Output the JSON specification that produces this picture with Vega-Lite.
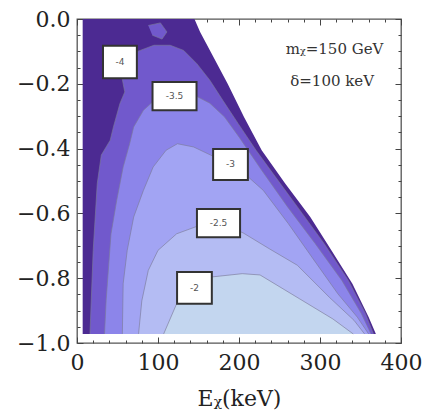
{
  "$schema": "https://vega.github.io/schema/vega-lite/v6.json",
  "autosize": "none",
  "width": 324,
  "height": 324,
  "padding": {"left": 77, "top": 19, "right": 22, "bottom": 72},
  "background": "white",
  "config": {
    "view": {"stroke": "#555", "strokeWidth": 1.3},
    "axis": {"grid": false, "domain": false, "ticks": true, "zindex": 2, "tickColor": "#444", "tickWidth": 1, "labelFont": "DejaVu Serif", "labelColor": "#222", "labelFlush": false, "labelOverlap": false, "titleFont": "DejaVu Serif", "titleColor": "#222", "titleFontWeight": "normal"}
  },
  "datasets": {
    "polys": [
      {"p": "L0", "i": 0, "x": 7, "y": 0},
      {"p": "L0", "i": 1, "x": 145, "y": 0},
      {"p": "L0", "i": 2, "x": 152, "y": -0.04},
      {"p": "L0", "i": 3, "x": 186, "y": -0.2},
      {"p": "L0", "i": 4, "x": 206, "y": -0.302},
      {"p": "L0", "i": 5, "x": 228, "y": -0.405},
      {"p": "L0", "i": 6, "x": 257, "y": -0.508},
      {"p": "L0", "i": 7, "x": 288, "y": -0.611},
      {"p": "L0", "i": 8, "x": 314, "y": -0.714},
      {"p": "L0", "i": 9, "x": 340, "y": -0.817},
      {"p": "L0", "i": 10, "x": 360, "y": -0.92},
      {"p": "L0", "i": 11, "x": 369, "y": -0.972},
      {"p": "L0", "i": 12, "x": 7, "y": -0.972},

      {"p": "L1", "i": 0, "x": 16, "y": -0.972},
      {"p": "L1", "i": 1, "x": 20, "y": -0.714},
      {"p": "L1", "i": 2, "x": 25, "y": -0.508},
      {"p": "L1", "i": 3, "x": 30, "y": -0.42},
      {"p": "L1", "i": 4, "x": 41, "y": -0.374},
      {"p": "L1", "i": 5, "x": 45, "y": -0.333},
      {"p": "L1", "i": 6, "x": 53, "y": -0.261},
      {"p": "L1", "i": 7, "x": 59, "y": -0.225},
      {"p": "L1", "i": 8, "x": 57, "y": -0.2},
      {"p": "L1", "i": 9, "x": 54, "y": -0.16},
      {"p": "L1", "i": 10, "x": 60, "y": -0.115},
      {"p": "L1", "i": 11, "x": 78, "y": -0.097},
      {"p": "L1", "i": 12, "x": 95, "y": -0.081},
      {"p": "L1", "i": 13, "x": 115, "y": -0.081},
      {"p": "L1", "i": 14, "x": 131.7, "y": -0.097},
      {"p": "L1", "i": 15, "x": 148, "y": -0.138},
      {"p": "L1", "i": 16, "x": 164, "y": -0.189},
      {"p": "L1", "i": 17, "x": 180, "y": -0.251},
      {"p": "L1", "i": 18, "x": 199, "y": -0.323},
      {"p": "L1", "i": 19, "x": 221, "y": -0.405},
      {"p": "L1", "i": 20, "x": 251, "y": -0.508},
      {"p": "L1", "i": 21, "x": 278, "y": -0.6},
      {"p": "L1", "i": 22, "x": 305, "y": -0.693},
      {"p": "L1", "i": 23, "x": 335, "y": -0.807},
      {"p": "L1", "i": 24, "x": 356, "y": -0.909},
      {"p": "L1", "i": 25, "x": 366, "y": -0.972},

      {"p": "L2", "i": 0, "x": 34, "y": -0.972},
      {"p": "L2", "i": 1, "x": 36, "y": -0.868},
      {"p": "L2", "i": 2, "x": 39, "y": -0.765},
      {"p": "L2", "i": 3, "x": 42, "y": -0.663},
      {"p": "L2", "i": 4, "x": 49, "y": -0.56},
      {"p": "L2", "i": 5, "x": 57, "y": -0.457},
      {"p": "L2", "i": 6, "x": 65, "y": -0.385},
      {"p": "L2", "i": 7, "x": 70, "y": -0.333},
      {"p": "L2", "i": 8, "x": 82, "y": -0.282},
      {"p": "L2", "i": 9, "x": 96, "y": -0.25},
      {"p": "L2", "i": 10, "x": 120, "y": -0.239},
      {"p": "L2", "i": 11, "x": 145, "y": -0.235},
      {"p": "L2", "i": 12, "x": 164, "y": -0.26},
      {"p": "L2", "i": 13, "x": 182, "y": -0.302},
      {"p": "L2", "i": 14, "x": 200, "y": -0.364},
      {"p": "L2", "i": 15, "x": 228, "y": -0.467},
      {"p": "L2", "i": 16, "x": 260, "y": -0.58},
      {"p": "L2", "i": 17, "x": 294, "y": -0.693},
      {"p": "L2", "i": 18, "x": 327, "y": -0.807},
      {"p": "L2", "i": 19, "x": 351, "y": -0.909},
      {"p": "L2", "i": 20, "x": 363, "y": -0.972},

      {"p": "L3", "i": 0, "x": 56, "y": -0.972},
      {"p": "L3", "i": 1, "x": 57, "y": -0.817},
      {"p": "L3", "i": 2, "x": 62, "y": -0.714},
      {"p": "L3", "i": 3, "x": 70, "y": -0.611},
      {"p": "L3", "i": 4, "x": 82, "y": -0.529},
      {"p": "L3", "i": 5, "x": 94, "y": -0.457},
      {"p": "L3", "i": 6, "x": 110, "y": -0.405},
      {"p": "L3", "i": 7, "x": 124, "y": -0.385},
      {"p": "L3", "i": 8, "x": 144, "y": -0.395},
      {"p": "L3", "i": 9, "x": 165, "y": -0.42},
      {"p": "L3", "i": 10, "x": 188, "y": -0.447},
      {"p": "L3", "i": 11, "x": 208, "y": -0.48},
      {"p": "L3", "i": 12, "x": 230, "y": -0.529},
      {"p": "L3", "i": 13, "x": 261, "y": -0.632},
      {"p": "L3", "i": 14, "x": 290, "y": -0.735},
      {"p": "L3", "i": 15, "x": 322, "y": -0.848},
      {"p": "L3", "i": 16, "x": 346, "y": -0.92},
      {"p": "L3", "i": 17, "x": 360, "y": -0.972},

      {"p": "L4", "i": 0, "x": 76, "y": -0.972},
      {"p": "L4", "i": 1, "x": 80, "y": -0.87},
      {"p": "L4", "i": 2, "x": 88, "y": -0.776},
      {"p": "L4", "i": 3, "x": 100, "y": -0.714},
      {"p": "L4", "i": 4, "x": 123, "y": -0.663},
      {"p": "L4", "i": 5, "x": 148, "y": -0.64},
      {"p": "L4", "i": 6, "x": 175, "y": -0.629},
      {"p": "L4", "i": 7, "x": 205, "y": -0.66},
      {"p": "L4", "i": 8, "x": 238, "y": -0.71},
      {"p": "L4", "i": 9, "x": 272, "y": -0.76},
      {"p": "L4", "i": 10, "x": 312, "y": -0.86},
      {"p": "L4", "i": 11, "x": 342, "y": -0.93},
      {"p": "L4", "i": 12, "x": 355, "y": -0.972},

      {"p": "L5", "i": 0, "x": 107, "y": -0.972},
      {"p": "L5", "i": 1, "x": 123, "y": -0.879},
      {"p": "L5", "i": 2, "x": 145, "y": -0.83},
      {"p": "L5", "i": 3, "x": 167, "y": -0.796},
      {"p": "L5", "i": 4, "x": 204, "y": -0.786},
      {"p": "L5", "i": 5, "x": 226, "y": -0.79},
      {"p": "L5", "i": 6, "x": 275, "y": -0.864},
      {"p": "L5", "i": 7, "x": 316, "y": -0.926},
      {"p": "L5", "i": 8, "x": 341, "y": -0.972},

      {"p": "B", "i": 0, "x": 88, "y": -0.02},
      {"p": "B", "i": 1, "x": 103, "y": -0.012},
      {"p": "B", "i": 2, "x": 111, "y": -0.04},
      {"p": "B", "i": 3, "x": 105, "y": -0.062},
      {"p": "B", "i": 4, "x": 93, "y": -0.05}
    ],
    "labels": [
      {"label": "-4", "x": 53, "y": -0.133},
      {"label": "-3.5", "x": 120.4, "y": -0.238},
      {"label": "-3", "x": 189.5, "y": -0.449},
      {"label": "-2.5", "x": 174.7, "y": -0.63},
      {"label": "-2", "x": 145, "y": -0.83}
    ],
    "notes": [
      {"t": "mᵪ=150 GeV", "x": 318, "y": -0.093},
      {"t": "δ=100 keV", "x": 315, "y": -0.191}
    ]
  },
  "resolve": {"axis": {"x": "independent", "y": "independent"}},
  "layer": [
    {
      "data": {"name": "polys"},
      "transform": [{"filter": "datum.p === 'L0'"}],
      "mark": {"type": "line", "interpolate": "linear-closed", "fill": "#4c2a92", "strokeWidth": 0, "stroke": null},
      "encoding": {
        "x": {"field": "x", "type": "quantitative", "scale": {"domain": [0, 400], "nice": false, "zero": false},
              "axis": {"orient": "bottom", "values": [0, 100, 200, 300, 400], "offset": -6, "tickSize": 6, "labelFontSize": 22, "labelPadding": 9, "title": "Eᵪ(keV)", "titleFontSize": 22, "titlePadding": 15}},
        "y": {"field": "y", "type": "quantitative", "scale": {"domain": [-1, 0], "nice": false, "zero": false},
              "axis": {"orient": "left", "values": [-1, -0.8, -0.6, -0.4, -0.2, 0], "format": ".1f", "offset": -6, "tickSize": 6, "labelFontSize": 22, "labelPadding": 7, "title": null}},
        "order": {"field": "i", "type": "quantitative"}
      }
    },
    {
      "data": {"name": "polys"},
      "transform": [{"filter": "datum.p === 'L1' || datum.p === 'B'"}],
      "mark": {"type": "line", "interpolate": "linear-closed", "fill": "#7159cc", "strokeWidth": 0, "stroke": null},
      "encoding": {
        "x": {"field": "x", "type": "quantitative", "axis": {"orient": "top", "values": [0, 100, 200, 300, 400], "offset": -6, "tickSize": 6, "labels": false, "title": null}},
        "y": {"field": "y", "type": "quantitative", "axis": {"orient": "right", "values": [-1, -0.8, -0.6, -0.4, -0.2, 0], "offset": -6, "tickSize": 6, "labels": false, "title": null}},
        "detail": {"field": "p"},
        "order": {"field": "i", "type": "quantitative"}
      }
    },
    {
      "data": {"name": "polys"},
      "transform": [{"filter": "datum.p === 'L2'"}],
      "mark": {"type": "line", "interpolate": "linear-closed", "fill": "#8c85ea", "strokeWidth": 0, "stroke": null},
      "encoding": {
        "x": {"field": "x", "type": "quantitative", "axis": {"orient": "bottom", "values": [20, 40, 60, 80, 120, 140, 160, 180, 220, 240, 260, 280, 320, 340, 360, 380], "offset": -3, "tickSize": 3, "labels": false, "title": null}},
        "y": {"field": "y", "type": "quantitative", "axis": {"orient": "left", "values": [-0.95, -0.9, -0.85, -0.75, -0.7, -0.65, -0.55, -0.5, -0.45, -0.35, -0.3, -0.25, -0.15, -0.1, -0.05], "offset": -3, "tickSize": 3, "labels": false, "title": null}},
        "order": {"field": "i", "type": "quantitative"}
      }
    },
    {
      "data": {"name": "polys"},
      "transform": [{"filter": "datum.p === 'L3'"}],
      "mark": {"type": "line", "interpolate": "linear-closed", "fill": "#a2a4f3", "strokeWidth": 0, "stroke": null},
      "encoding": {
        "x": {"field": "x", "type": "quantitative", "axis": {"orient": "top", "values": [20, 40, 60, 80, 120, 140, 160, 180, 220, 240, 260, 280, 320, 340, 360, 380], "offset": -3, "tickSize": 3, "labels": false, "title": null}},
        "y": {"field": "y", "type": "quantitative", "axis": {"orient": "right", "values": [-0.95, -0.9, -0.85, -0.75, -0.7, -0.65, -0.55, -0.5, -0.45, -0.35, -0.3, -0.25, -0.15, -0.1, -0.05], "offset": -3, "tickSize": 3, "labels": false, "title": null}},
        "order": {"field": "i", "type": "quantitative"}
      }
    },
    {
      "data": {"name": "polys"},
      "transform": [{"filter": "datum.p === 'L4'"}],
      "mark": {"type": "line", "interpolate": "linear-closed", "fill": "#b4bcf3", "strokeWidth": 0, "stroke": null},
      "encoding": {
        "x": {"field": "x", "type": "quantitative", "axis": null},
        "y": {"field": "y", "type": "quantitative", "axis": null},
        "order": {"field": "i", "type": "quantitative"}
      }
    },
    {
      "data": {"name": "polys"},
      "transform": [{"filter": "datum.p === 'L5'"}],
      "mark": {"type": "line", "interpolate": "linear-closed", "fill": "#c3d6ef", "strokeWidth": 0, "stroke": null},
      "encoding": {
        "x": {"field": "x", "type": "quantitative", "axis": null},
        "y": {"field": "y", "type": "quantitative", "axis": null},
        "order": {"field": "i", "type": "quantitative"}
      }
    },
    {
      "data": {"name": "polys"},
      "transform": [{"filter": "datum.p !== 'L0'"}],
      "mark": {"type": "line", "interpolate": "linear", "stroke": "#7a7a98", "strokeWidth": 0.8, "opacity": 0.8},
      "encoding": {
        "x": {"field": "x", "type": "quantitative", "axis": null},
        "y": {"field": "y", "type": "quantitative", "axis": null},
        "detail": {"field": "p"},
        "order": {"field": "i", "type": "quantitative"}
      }
    },
    {
      "data": {"name": "labels"},
      "mark": {"type": "point", "filled": true, "fill": "white", "stroke": "#333", "strokeWidth": 2, "opacity": 1},
      "encoding": {
        "x": {"field": "x", "type": "quantitative", "axis": null},
        "y": {"field": "y", "type": "quantitative", "axis": null},
        "shape": {"field": "label", "type": "nominal", "legend": null,
                  "scale": {"domain": ["-4", "-3.5", "-3", "-2.5", "-2"],
                            "range": ["M-0.77,-0.74L0.77,-0.74L0.77,0.74L-0.77,0.74Z", "M-1,-0.64L1,-0.64L1,0.64L-1,0.64Z", "M-0.79,-0.7L0.79,-0.7L0.79,0.7L-0.79,0.7Z", "M-0.98,-0.64L0.98,-0.64L0.98,0.64L-0.98,0.64Z", "M-0.79,-0.72L0.79,-0.72L0.79,0.72L-0.79,0.72Z"]}},
        "size": {"value": 1936}
      }
    },
    {
      "data": {"name": "labels"},
      "mark": {"type": "text", "font": "DejaVu Sans", "fontSize": 9, "color": "#555"},
      "encoding": {
        "x": {"field": "x", "type": "quantitative", "axis": null},
        "y": {"field": "y", "type": "quantitative", "axis": null},
        "text": {"field": "label"}
      }
    },
    {
      "data": {"name": "notes"},
      "mark": {"type": "text", "font": "DejaVu Serif", "fontSize": 15, "color": "#333"},
      "encoding": {
        "x": {"field": "x", "type": "quantitative", "axis": null},
        "y": {"field": "y", "type": "quantitative", "axis": null},
        "text": {"field": "t"}
      }
    }
  ]
}
